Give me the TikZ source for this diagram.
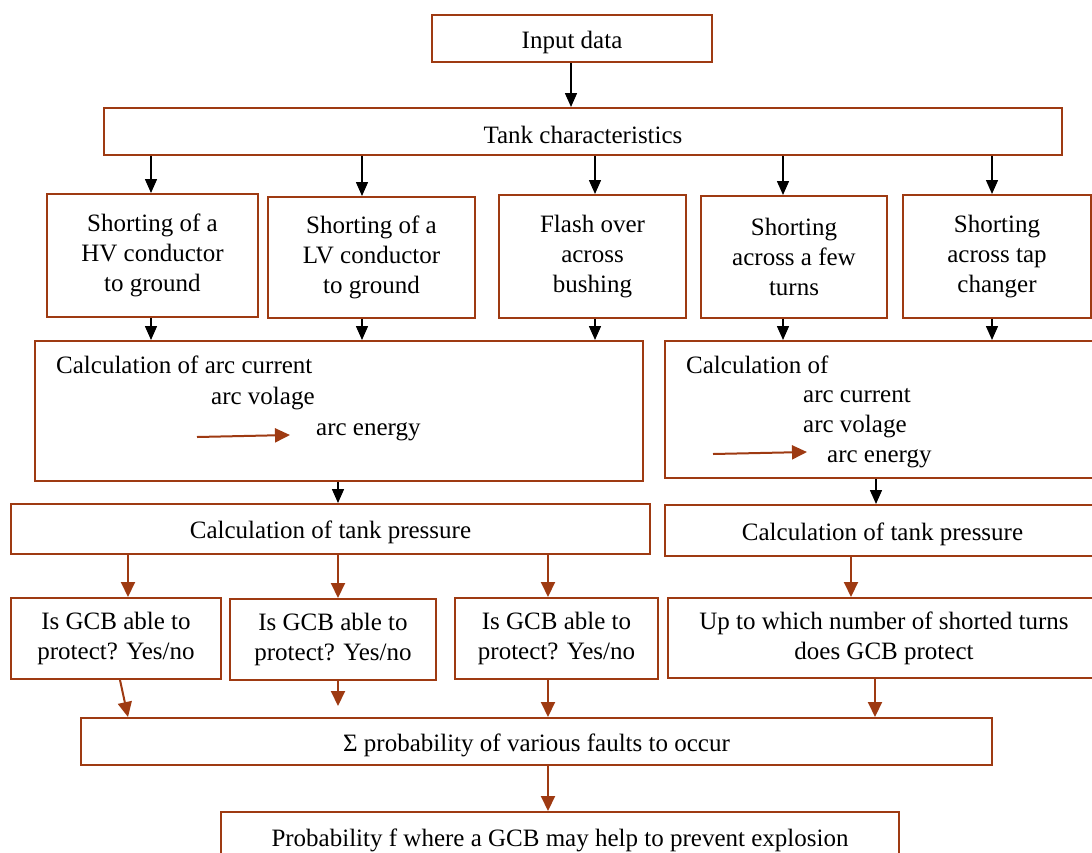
\documentclass[tikz,border=0pt]{standalone}
\usepackage{fontspec}
\setmainfont{Liberation Serif}
\usetikzlibrary{arrows.meta,calc}
\definecolor{rust}{RGB}{158,58,18}

\begin{document}
\begin{tikzpicture}[
  x=1pt, y=-1pt,
  font=\fontsize{25}{30}\selectfont,
  blk/.style={draw=rust, line width=2pt, align=center, inner sep=0pt,
    execute at begin node={\rule{0pt}{25pt}}},
  flow/.style={-{Triangle[length=14pt,width=12pt]}, line width=1.5pt, black},
  feed/.style={-{Triangle[length=15pt,width=14pt]}, line width=2pt, rust},
  txt/.style={anchor=west, inner sep=0pt, text height=17pt, text depth=5pt}
]
  \useasboundingbox (0,0) rectangle (1092,852);
  % top
  \node[blk, minimum width=280, minimum height=47] (inp) at (572,38.5) {Input data};
  \node[blk, minimum width=958, minimum height=47] (tank) at (583,131.5) {Tank characteristics};
  \draw[flow] (inp.south -| 571,0) -- (tank.north -| 571,0);
  % fault types
  \node[blk, minimum width=211, minimum height=123] (hv) at (152.5,255.5) {Shorting of a\\HV conductor\\to ground};
  \node[blk, minimum width=207, minimum height=121] (lv) at (371.5,257.5) {Shorting of a\\LV conductor\\to ground};
  \node[blk, minimum width=187, minimum height=123] (fo) at (592.5,256.5) {Flash over\\across\\bushing};
  \node[blk, minimum width=186, minimum height=122] (turns) at (794,257) {Shorting\\across a few\\turns};
  \node[blk, minimum width=188, minimum height=123] (tap) at (997,256.5) {Shorting\\across tap\\changer};
  \draw[flow] (tank.south -| 151,0) -- (hv.north -| 151,0);
  \draw[flow] (tank.south -| 362,0) -- (lv.north -| 362,0);
  \draw[flow] (tank.south -| 595,0) -- (fo.north -| 595,0);
  \draw[flow] (tank.south -| 783,0) -- (turns.north -| 783,0);
  \draw[flow] (tank.south -| 992,0) -- (tap.north -| 992,0);
  % arc calculations
  \node[blk, minimum width=608, minimum height=140] (arcL) at (339,411) {};
  \node[blk, minimum width=435, minimum height=137] (arcR) at (882.5,409.5) {};
  \draw[flow] (hv.south -| 151,0) -- (arcL.north -| 151,0);
  \draw[flow] (lv.south -| 362,0) -- (arcL.north -| 362,0);
  \draw[flow] (fo.south -| 595,0) -- (arcL.north -| 595,0);
  \draw[flow] (turns.south -| 783,0) -- (arcR.north -| 783,0);
  \draw[flow] (tap.south -| 992,0) -- (arcR.north -| 992,0);
  \node[txt] (calcL) at (56,367) {Calculation of arc current};
  \node[txt] (voltL) at (211,398) {arc volage};
  \node[txt] (enL) at (316,429) {arc energy};
  \coordinate (aL) at (197,437);
  \coordinate (bL) at (290,435);
  \draw[feed] (aL) -- (bL);
  \node[txt] (calcR) at (686,367) {Calculation of};
  \node[txt] (curR) at (803,396) {arc current};
  \node[txt] (voltR) at (803,426) {arc volage};
  \node[txt] (enR) at (827,456) {arc energy};
  \coordinate (aR) at (713,454);
  \coordinate (bR) at (807,452);
  \draw[feed] (aR) -- (bR);
  % tank pressure
  \node[blk, minimum width=639, minimum height=50] (presL) at (330.5,529) {Calculation of tank pressure};
  \node[blk, minimum width=435, minimum height=51] (presR) at (882.5,530.5) {Calculation of tank pressure};
  \draw[flow] (arcL.south -| 338,0) -- (presL.north -| 338,0);
  \draw[flow] (arcR.south -| 876,0) -- (presR.north -| 876,0);
  % protection
  \node[blk, minimum width=210, minimum height=81] (gcbA) at (116,638.5) {Is GCB able to\\protect? Yes/no};
  \node[blk, minimum width=206, minimum height=81] (gcbB) at (333,639.5) {Is GCB able to\\protect? Yes/no};
  \node[blk, minimum width=203, minimum height=81] (gcbC) at (556.5,638.5) {Is GCB able to\\protect? Yes/no};
  \node[blk, minimum width=432, minimum height=80] (upto) at (884,638) {Up to which number of shorted turns\\does GCB protect};
  \draw[feed] (presL.south -| 128,0) -- (gcbA.north -| 128,0);
  \draw[feed] (presL.south -| 338,0) -- (gcbB.north -| 338,0);
  \draw[feed] (presL.south -| 548,0) -- (gcbC.north -| 548,0);
  \draw[feed] (presR.south -| 851,0) -- (upto.north -| 851,0);
  % sum and result
  \node[blk, minimum width=911, minimum height=47] (sum) at (536.5,741.5) {Σ probability of various faults to occur};
  \node[blk, minimum width=678, minimum height=50] (res) at (560,837) {Probability f where a GCB may help to prevent explosion};
  \draw[feed] (gcbA.south -| 120,0) -- (sum.north -| 128,0);
  \coordinate (gapB) at (338,706);
  \draw[feed] (gcbB.south -| 338,0) -- (gapB);
  \draw[feed] (gcbC.south -| 548,0) -- (sum.north -| 548,0);
  \draw[feed] (upto.south -| 875,0) -- (sum.north -| 875,0);
  \draw[feed] (sum.south -| 548,0) -- (res.north -| 548,0);
\end{tikzpicture}
\end{document}
